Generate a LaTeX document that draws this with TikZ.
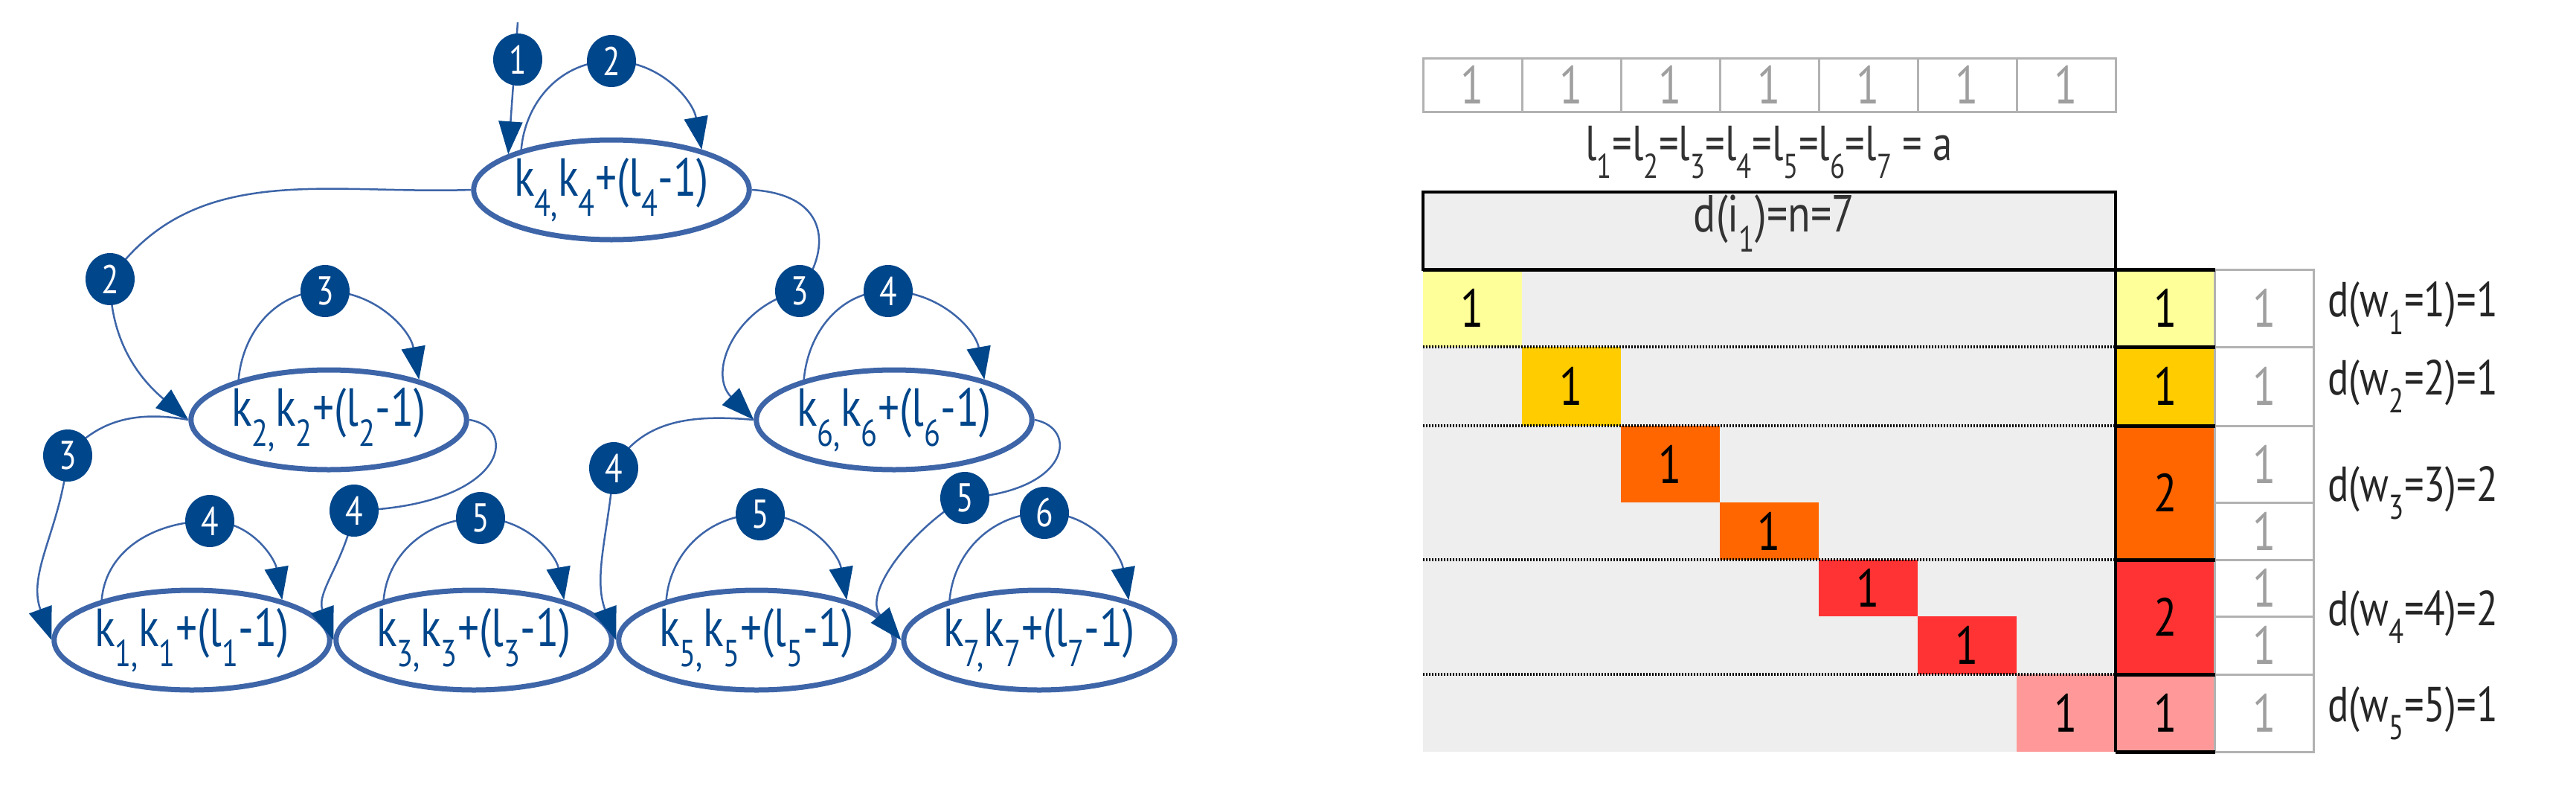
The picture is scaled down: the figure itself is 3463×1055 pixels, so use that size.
\documentclass[tikz,border=0pt]{standalone}
\usepackage{fontspec}
\setmainfont{PT Sans}[FakeStretch=0.8]
\usetikzlibrary{shapes.geometric,arrows.meta}
\definecolor{tblue}{HTML}{00468B}
\definecolor{eblue}{HTML}{3D65A8}
\definecolor{cellgray}{HTML}{EEEEEE}
\definecolor{cyel}{HTML}{FFFF99}
\definecolor{cgold}{HTML}{FFCC00}
\definecolor{corange}{HTML}{FF6600}
\definecolor{cred}{HTML}{FF3333}
\definecolor{cpink}{HTML}{FF9999}
\newcommand{\kl}[1]{k\textsubscript{#1,}k\textsubscript{#1}+(l\textsubscript{#1}-1)}
\tikzset{
  state/.style={ellipse, draw=eblue, line width=7pt, fill=white, text=tblue,
    minimum width=326pt, minimum height=134pt, inner sep=0pt,
    font=\fontsize{72}{72}\selectfont},
  badge/.style={ellipse, fill=tblue, text=white, minimum width=66pt,
    minimum height=70pt, inner sep=0pt, font=\fontsize{54}{54}\selectfont},
  edge/.style={draw=eblue, line width=2.5pt,
    -{Triangle[length=44pt,width=32pt,fill=tblue,color=tblue]}},
  cell/.style={font=\fontsize{72}{72}\selectfont},
  grey1/.style={font=\fontsize{72}{72}\selectfont, text=gray!75}
}
\begin{document}
\begin{tikzpicture}[x=1pt,y=-1pt]
\useasboundingbox (0,0) rectangle (3463,1055);

% tree
\node[state] (n4) at (822,255) {\kl{4}};
\node[state] (n2) at (442,564) {\kl{2}};
\node[state] (n6) at (1202,564) {\kl{6}};
\node[state] (n1) at (258,860) {\kl{1}};
\node[state] (n3) at (637,860) {\kl{3}};
\node[state] (n5) at (1017,860) {\kl{5}};
\node[state] (n7) at (1397,860) {\kl{7}};

\coordinate (top) at (696,30);
\coordinate (b1) at (696,80);
\coordinate (l4) at (822,82);
\coordinate (e2) at (148,375);
\coordinate (l2) at (437,391);
\coordinate (e6) at (1075,391);
\coordinate (l6) at (1194,391);
\coordinate (e1) at (91,612);
\coordinate (l1) at (282,700);
\coordinate (e3) at (476,686);
\coordinate (l3) at (646,696);
\coordinate (e5) at (825,629);
\coordinate (l5) at (1022,691);
\coordinate (e7) at (1297,669);
\coordinate (l7) at (1404,689);

\draw[edge] (top) -- (n4.161);
\foreach \n in {4,2,6,1,3,5,7}
  \draw[edge] (n\n.156) to[out=85,in=180] (l\n) to[out=0,in=100] (n\n.24);

\draw[edge] (n4.west) to[out=182,in=55] (e2) to[out=-90,in=140] (n2.west);
\draw[edge] (n4.east) .. controls (1120,262) and (1115,340) .. (e6)
  .. controls (990,410) and (950,500) .. (n6.west);
\draw[edge] (n2.west) to[out=170,in=50] (e1) to[out=-95,in=110] (n1.west);
\draw[edge] (n2.east) .. controls (700,575) and (680,680) .. (e3)
  to[out=-100,in=110] (n3.west);
\draw[edge] (n6.west) to[out=175,in=60] (e5) to[out=-95,in=110] (n5.west);
\draw[edge] (n6.east) .. controls (1450,575) and (1440,660) .. (e7)
  to[out=-150,in=130] (n7.west);

\foreach \c/\t in {b1/1,l4/2,e2/2,l2/3,e6/3,l6/4,e1/3,l1/4,e3/4,l3/5,e5/4,l5/5,e7/5,l7/6}
  \node[badge] (m\c) at (\c) {\t};

% table
\foreach \k in {1,...,7}
  \node[grey1, draw=gray!60, line width=3pt, minimum width=133pt, minimum height=72pt,
    inner sep=0pt] (t\k) at ({1913+133*(\k-1)+66.5},114) {1};
\node[font=\fontsize{66}{66}\selectfont, text=black!80] (lab) at (2378,205)
  {l\textsubscript{1}=l\textsubscript{2}=l\textsubscript{3}=l\textsubscript{4}=l\textsubscript{5}=l\textsubscript{6}=l\textsubscript{7} = a};
\fill[cellgray] (1913,258) rectangle (2844,1010);
\node[font=\fontsize{70}{70}\selectfont, text=black!80] (hd) at (2385,300) {d(i\textsubscript{1})=n=7};

\foreach \k/\ya/\yb/\col in {1/362/466/cyel,2/466/572/cgold,3/572/675/corange,
    4/675/752/corange,5/752/828/cred,6/828/906/cred,7/906/1010/cpink}
  \node[cell, fill=\col, minimum width=133pt, minimum height={\yb-\ya}, inner sep=0pt]
    (c\k) at ({1913+133*(\k-1)+66.5},{(\ya+\yb)/2}) {1};

\foreach \y in {466,572,752,906}
  \draw[black, line width=4pt, dash pattern=on 2pt off 2pt] (1913,\y) -- (2844,\y);

% sum column
\foreach \g/\ya/\yb/\col/\v in {1/362/466/cyel/1,2/466/572/cgold/1,3/572/752/corange/2,
    4/752/906/cred/2,5/906/1010/cpink/1}
  \node[cell, fill=\col, minimum width=133pt, minimum height={\yb-\ya}, inner sep=0pt]
    (s\g) at (2911,{(\ya+\yb)/2}) {\v};

% white column
\foreach \ya/\yb [count=\i] in {362/466,466/572,572/675,675/752,752/828,828/906,906/1010}
  \node[grey1, draw=gray!60, line width=3pt, minimum width=133pt, minimum height={\yb-\ya},
    inner sep=0pt] (u\i) at (3044,{(\ya+\yb)/2}) {1};

\draw[black, line width=4pt] (1913,258) rectangle (2844,362);
\draw[black, line width=5pt] (1913,362) -- (2978,362);
\draw[black, line width=4pt] (2844,362) -- (2844,1010);
\foreach \y in {466,572,752,906}
  \draw[black, line width=5pt] (2844,\y) -- (2978,\y);
\draw[black, line width=5pt] (2844,1010) -- (2978,1010);

\foreach \y/\w/\d in {414/1/1,519/2/1,662/3/2,829/4/2,958/5/1}
  \node[font=\fontsize{66}{66}\selectfont, text=black!85, anchor=west] (w\w) at (3126,\y)
    {d(w\textsubscript{\w}=\w)=\d};
\end{tikzpicture}
\end{document}
